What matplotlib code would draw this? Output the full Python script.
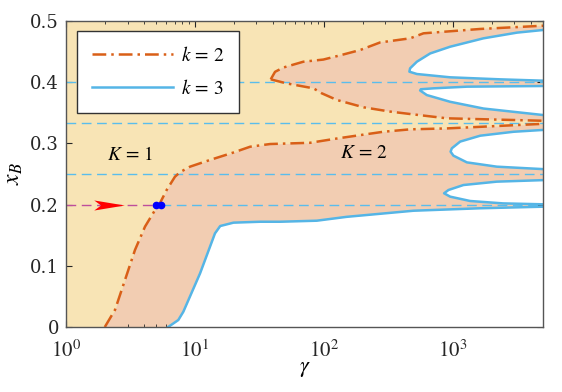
import numpy as np
import matplotlib
matplotlib.use('Agg')
import matplotlib.pyplot as plt
from matplotlib.path import Path
from matplotlib.lines import Line2D

plt.rcParams["mathtext.fontset"] = "stix"
plt.rcParams["font.family"] = "DejaVu Serif"

# k = 2 boundary, lower branch (gamma, x_B)
k2_low_g = [2.0, 2.4, 2.87, 3.43, 4.1, 4.9, 5.36, 6.04, 7.0, 7.66, 9.16, 13.1, 19.8, 26.8, 38.3, 78, 126, 288, 468, 898, 5000]
k2_low_x = [0.0, 0.028, 0.077, 0.126, 0.164, 0.191, 0.2026, 0.224, 0.2456, 0.253, 0.262, 0.273, 0.285, 0.2946, 0.299, 0.301, 0.308, 0.319, 0.323, 0.3245, 0.332]

# k = 2 upper wedge: upper branch from tip to right, lower branch from tip to right
k2_up_g = [38.7, 41.8, 48.5, 69.3, 99, 134, 191, 273, 466, 592, 1630, 5000]
k2_up_x = [0.4047, 0.417, 0.424, 0.4335, 0.437, 0.444, 0.4526, 0.465, 0.4717, 0.4799, 0.487, 0.4923]
k2_dn_g = [38.7, 51.5, 83, 96, 126, 203, 326, 467, 898, 5000]
k2_dn_x = [0.4047, 0.398, 0.39, 0.382, 0.371, 0.359, 0.352, 0.348, 0.341, 0.337]

# k = 3 bottom boundary
k3_bot_g = [6.2, 7.43, 8.13, 10.96, 14.3, 15.7, 19.9, 32, 45.7, 88, 150, 495, 1620, 5000]
k3_bot_x = [0.0, 0.0114, 0.025, 0.0877, 0.153, 0.165, 0.1705, 0.172, 0.172, 0.1737, 0.180, 0.190, 0.194, 0.1966]

# k = 3 tongues (upper right -> tip -> lower right)
t1_g = [5000, 2190, 1208, 925, 855, 953, 1362, 2450, 5000]
t1_x = [0.240, 0.2375, 0.232, 0.2239, 0.2185, 0.213, 0.2059, 0.202, 0.2005]
t2_g = [5000, 2950, 1630, 1140, 982, 960, 1010, 1285, 2190, 5000]
t2_x = [0.322, 0.319, 0.3126, 0.303, 0.292, 0.2865, 0.280, 0.269, 0.262, 0.258]
t3_g = [5000, 1285, 707, 565, 557, 628, 953, 1727, 5000]
t3_x = [0.3938, 0.3927, 0.390, 0.3885, 0.3865, 0.379, 0.368, 0.357, 0.3464]
t4_g = [5000, 3140, 1727, 953, 667, 526, 466, 460, 526, 953, 2330, 5000]
t4_x = [0.4853, 0.481, 0.4717, 0.458, 0.447, 0.4335, 0.4227, 0.4172, 0.4134, 0.408, 0.4047, 0.4025]

h_levels = [0.2, 0.25, 1 / 3, 0.4]
dots_g = [4.96, 5.46]
dots_x = [0.2, 0.2]
arrow_g = 2.15
arrow_x = 0.2
path_end_g = 4.8

YELLOW = "#F8E4B5"
PEACH = "#F2CDB2"
ORANGE = "#D95F17"
BLUE = "#55B5E6"
DASHBLUE = "#5ABDEC"
MAGENTA = "#BE4E9C"

fig = plt.figure(figsize=(5.62, 3.92), dpi=100)
ax = fig.add_axes([0.1174, 0.1658, 0.8488, 0.7806])
ax.set_facecolor(YELLOW)
ax.set_xscale("log")
ax.set_xlim(1, 5000)
ax.set_ylim(0, 0.5)

# K = 2 regions
ax.fill_between(k2_low_g, k2_low_x, 0, color=PEACH, lw=0, zorder=1)
wedge_g = k2_up_g + k2_dn_g[::-1]
wedge_x = k2_up_x + k2_dn_x[::-1]
ax.fill(wedge_g, wedge_x, color=PEACH, lw=0, zorder=1)

# white regions inside k = 3
ax.fill_between(k3_bot_g, k3_bot_x, 0, color="white", lw=0, zorder=2)
for tg, tx in [(t1_g, t1_x), (t2_g, t2_x), (t3_g, t3_x), (t4_g, t4_x)]:
    ax.fill(tg, tx, color="white", lw=0, zorder=2)

# dashed reference lines
for lv in h_levels:
    start = dots_g[-1] if lv == 0.2 else 1
    ax.plot([start, 5000], [lv, lv], color=DASHBLUE, lw=1.0, dashes=(7, 4), zorder=3)
ax.plot([1, path_end_g], [0.2, 0.2], color=MAGENTA, lw=1.0, dashes=(7, 4), zorder=3)

# k = 3 curves
ax.plot(k3_bot_g, k3_bot_x, color=BLUE, lw=1.8, zorder=4, solid_joinstyle="round")
for tg, tx in [(t1_g, t1_x), (t2_g, t2_x), (t3_g, t3_x), (t4_g, t4_x)]:
    ax.plot(tg, tx, color=BLUE, lw=1.8, zorder=4, solid_joinstyle="round")

# k = 2 curves
dd = (0, (5.5, 2, 1, 2))
ax.plot(k2_low_g, k2_low_x, color=ORANGE, lw=1.8, ls=dd, zorder=5)
ax.plot(k2_up_g, k2_up_x, color=ORANGE, lw=1.8, ls=dd, zorder=5)
ax.plot(k2_dn_g, k2_dn_x, color=ORANGE, lw=1.8, ls=dd, zorder=5)

# arrow and points
arrow_path = Path([(1, 0), (-1, 0.33), (-0.55, 0), (-1, -0.33), (1, 0)],
                  [Path.MOVETO, Path.LINETO, Path.LINETO, Path.LINETO, Path.CLOSEPOLY])
ax.plot([arrow_g], [arrow_x], marker=arrow_path, markersize=22, color="red",
        markeredgewidth=0, ls="none", zorder=6)
ax.plot(dots_g, dots_x, "o", color="#0000FF", markersize=4.5, zorder=6)

ax.text(3.15, 0.281, "$K\\,=\\,1$", fontsize=14, ha="center", va="center", zorder=7)
ax.text(203, 0.284, "$K\\,=\\,2$", fontsize=14, ha="center", va="center", zorder=7)

# ticks
ax.set_yticks([0, 0.1, 0.2, 0.3, 0.4, 0.5])
ax.set_yticklabels(["0", "0.1", "0.2", "0.3", "0.4", "0.5"])
ax.set_xticks([1, 10, 100, 1000])
ax.set_xticklabels(["$10^0$", "$10^1$", "$10^2$", "$10^3$"])
ax.tick_params(which="both", direction="in", top=True, right=True, colors="#262626",
               labelsize=13, pad=5)
ax.tick_params(which="major", length=4)
ax.tick_params(which="minor", length=2.5)
ax.tick_params(axis="x", labelsize=15, pad=9)
for s in ax.spines.values():
    s.set_color("#555555")
    s.set_linewidth(1.0)
    s.set_zorder(8)

ax.set_xlabel("$\\gamma$", fontsize=16, labelpad=-3)
ax.set_ylabel("$x_B$", fontsize=17, labelpad=4)

handles = [Line2D([], [], color=ORANGE, lw=1.8, ls=dd),
           Line2D([], [], color=BLUE, lw=1.8)]
leg = ax.legend(handles, ["$k\\,=\\,2$", "$k\\,=\\,3$"], loc="upper left",
                bbox_to_anchor=(0.023, 0.967), borderaxespad=0, fontsize=14,
                handlelength=4.2, borderpad=0.75, labelspacing=0.75, handletextpad=0.4,
                fancybox=False, framealpha=1, edgecolor="#333333")
leg.get_frame().set_linewidth(1.0)
leg.set_zorder(9)

plt.savefig("out.png", dpi=100)
